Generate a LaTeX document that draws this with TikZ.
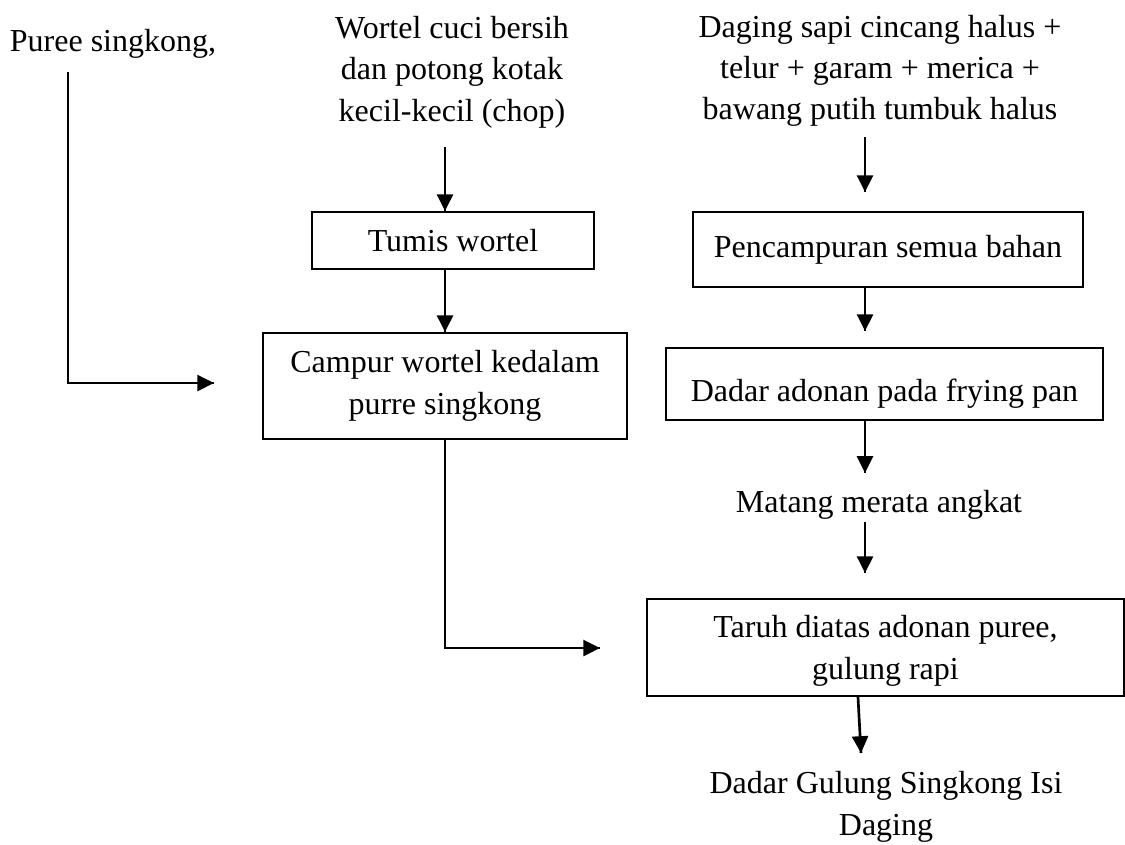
\documentclass[tikz,border=0pt]{standalone}
\usepackage{fontspec}
\setmainfont{Liberation Serif}
\tikzset{->/.style = {line width=1pt, decoration={markings, mark=at position 1 with {\arrow[scale=1]{Triangle[length=6.3pt,width=6pt]}}}, postaction={decorate}}}
\tikzset{kotak/.style = {draw, line width=0.7pt, align=center, inner sep=0}}
\tikzset{teks/.style = {align=center, inner sep=0}}
\usetikzlibrary{calc,arrows.meta,
                 decorations.markings}

\begin{document}
\begin{tikzpicture}[x=0.375pt, y=0.375pt, font=\fontsize{12}{15.5}\selectfont]
      \useasboundingbox (0,0) rectangle (1125,-844);
      \node [teks] (puree) at (113,-44) {Puree singkong,};
      \node [teks] (wortel) at (452,-72) {Wortel cuci bersih\\dan potong kotak\\kecil-kecil (chop)};
      \node [teks] (daging) at (880,-71) {Daging sapi cincang halus +\\telur + garam + merica +\\bawang putih tumbuk halus};
      \node [kotak, minimum width=105.75pt, minimum height=21.375pt] (tumis) at (453,-240.5) {Tumis wortel};
      \node [kotak, minimum width=136.5pt, minimum height=39.75pt] (campur) at (445,-386) {Campur wortel kedalam\\purre singkong};
      \node [kotak, minimum width=146.25pt, minimum height=28.125pt] (pencampuran) at (888,-249.5) {Pencampuran semua bahan};
      \node [kotak, minimum width=163.875pt, minimum height=27pt, text height=16pt] (dadar) at (884.5,-384) {Dadar adonan pada frying pan};
      \node [teks] (matang) at (879,-505) {Matang merata angkat};
      \node [kotak, minimum width=178.875pt, minimum height=36.375pt, text depth=-2.6pt] (taruh) at (885.5,-647.5) {Taruh diatas adonan puree,\\gulung rapi};
      \node [teks] (hasil) at (886,-807) {Dadar Gulung Singkong Isi\\Daging};
      \coordinate (poros) at (865,0);
      \draw [->] ($(wortel.center -| campur.north)+(0,-75)$) -- (tumis.north -| campur.north);
      \draw [->] (tumis.south -| campur.north) -- (campur.north);
      \draw [->] ($(puree.center)+(-45,-28)$) |- ($(campur.west)+(-48,3)$);
      \draw [->] (campur.south) |- ($(taruh.west)+(-46,-0.5)$);
      \draw [->] ($(daging.center -| poros)+(0,-66)$) -- ($(pencampuran.north -| poros)+(0,19)$);
      \draw [->] (pencampuran.south -| poros) -- ($(dadar.north -| poros)+(0,16)$);
      \draw [->] (dadar.south -| poros) -- ($(matang.center -| poros)+(0,32)$);
      \draw [->] ($(matang.center -| poros)+(0,-17)$) -- ($(taruh.north -| poros)+(0,25)$);
      \draw [->] ($(taruh.south)+(-27.5,0)$) -- ($(hasil.center)+(-25,54)$);
    \end{tikzpicture}
\end{document}
